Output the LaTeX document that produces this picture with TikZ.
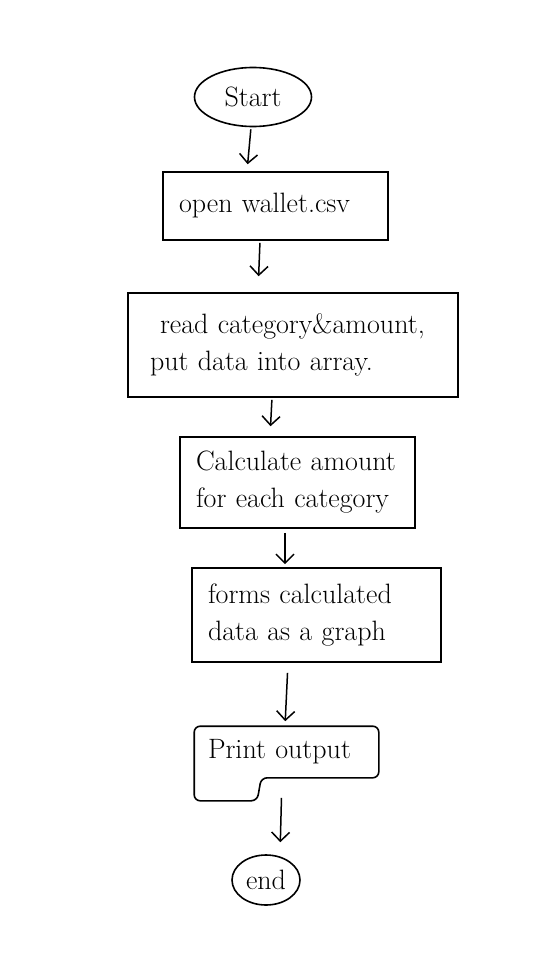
\documentclass[tikz,border=0pt]{standalone}
\usetikzlibrary{arrows.meta,positioning,shapes.geometric,calc}
\tikzset{
  terminal/.style={draw,ellipse,line width=1.6pt,inner sep=0pt,
                   font=\fontsize{28}{34}\selectfont},
  stepbox/.style={draw,line width=1.6pt,align=left,inner xsep=16pt,inner ysep=0pt,
                  font=\fontsize{28}{37}\selectfont},
  flow/.style={-{Straight Barb[length=9pt,width=18pt]},line width=1.5pt,
               shorten <=2pt,shorten >=8pt}
}
\begin{document}
\begin{tikzpicture}[x=1pt,y=-1pt]
  \useasboundingbox[fill=white] (0,0) rectangle (540,968);
  \node[terminal,minimum width=117pt,minimum height=59pt] (start) at (253,97) {Start};
  \node[stepbox,text width=193pt,minimum height=68pt] (open) at (275.5,206) {open wallet.csv};
  \node[stepbox,inner xsep=22pt,text width=286pt,minimum height=104pt] (read) at (293,345)
    {\hspace*{10pt}read category\&amount,\\put data into array.};
  \node[stepbox,text width=203pt,minimum height=91pt] (calc) at (297.5,482.5)
    {Calculate amount\\for each category};
  \node[stepbox,text width=217pt,minimum height=94pt] (forms) at (316.5,615)
    {forms calculated\\data as a graph};
  \node[stepbox,draw=none,inner xsep=13pt,text width=157pt,minimum height=50pt] (print) at (286.5,752)
    {Print output};
  \draw[line width=1.6pt,rounded corners=6pt] (print.north west) -- (print.north east)
    -- (print.south east) -- ($(print.south west)+(67,0)$) -- ($(print.south west)+(63,23)$)
    -- ($(print.south west)+(0,23)$) -- cycle;
  \node[terminal,minimum width=68pt,minimum height=50pt] (end) at (266,880) {end};
  \draw[flow,shorten >=7pt] ([xshift=-2pt]start.south) -- ([xshift=-28.5pt]open.north);
  \draw[flow,shorten >=16pt] ([xshift=-15.5pt]open.south) -- ([xshift=-35pt]read.north);
  \draw[flow,shorten >=10pt] ([xshift=-21pt]read.south) -- ([xshift=-27.5pt]calc.north);
  \draw[flow,shorten <=4pt,shorten >=3pt] ([xshift=-12.5pt]calc.south) -- ([xshift=-31.5pt]forms.north);
  \draw[flow,shorten <=10pt,shorten >=5pt] ([xshift=-28.5pt]forms.south) -- ([xshift=-1.5pt]print.north);
  \draw[flow,shorten <=20pt,shorten >=12pt] ([xshift=-4.5pt]print.south) -- ([xshift=14pt]end.north);
\end{tikzpicture}
\end{document}
